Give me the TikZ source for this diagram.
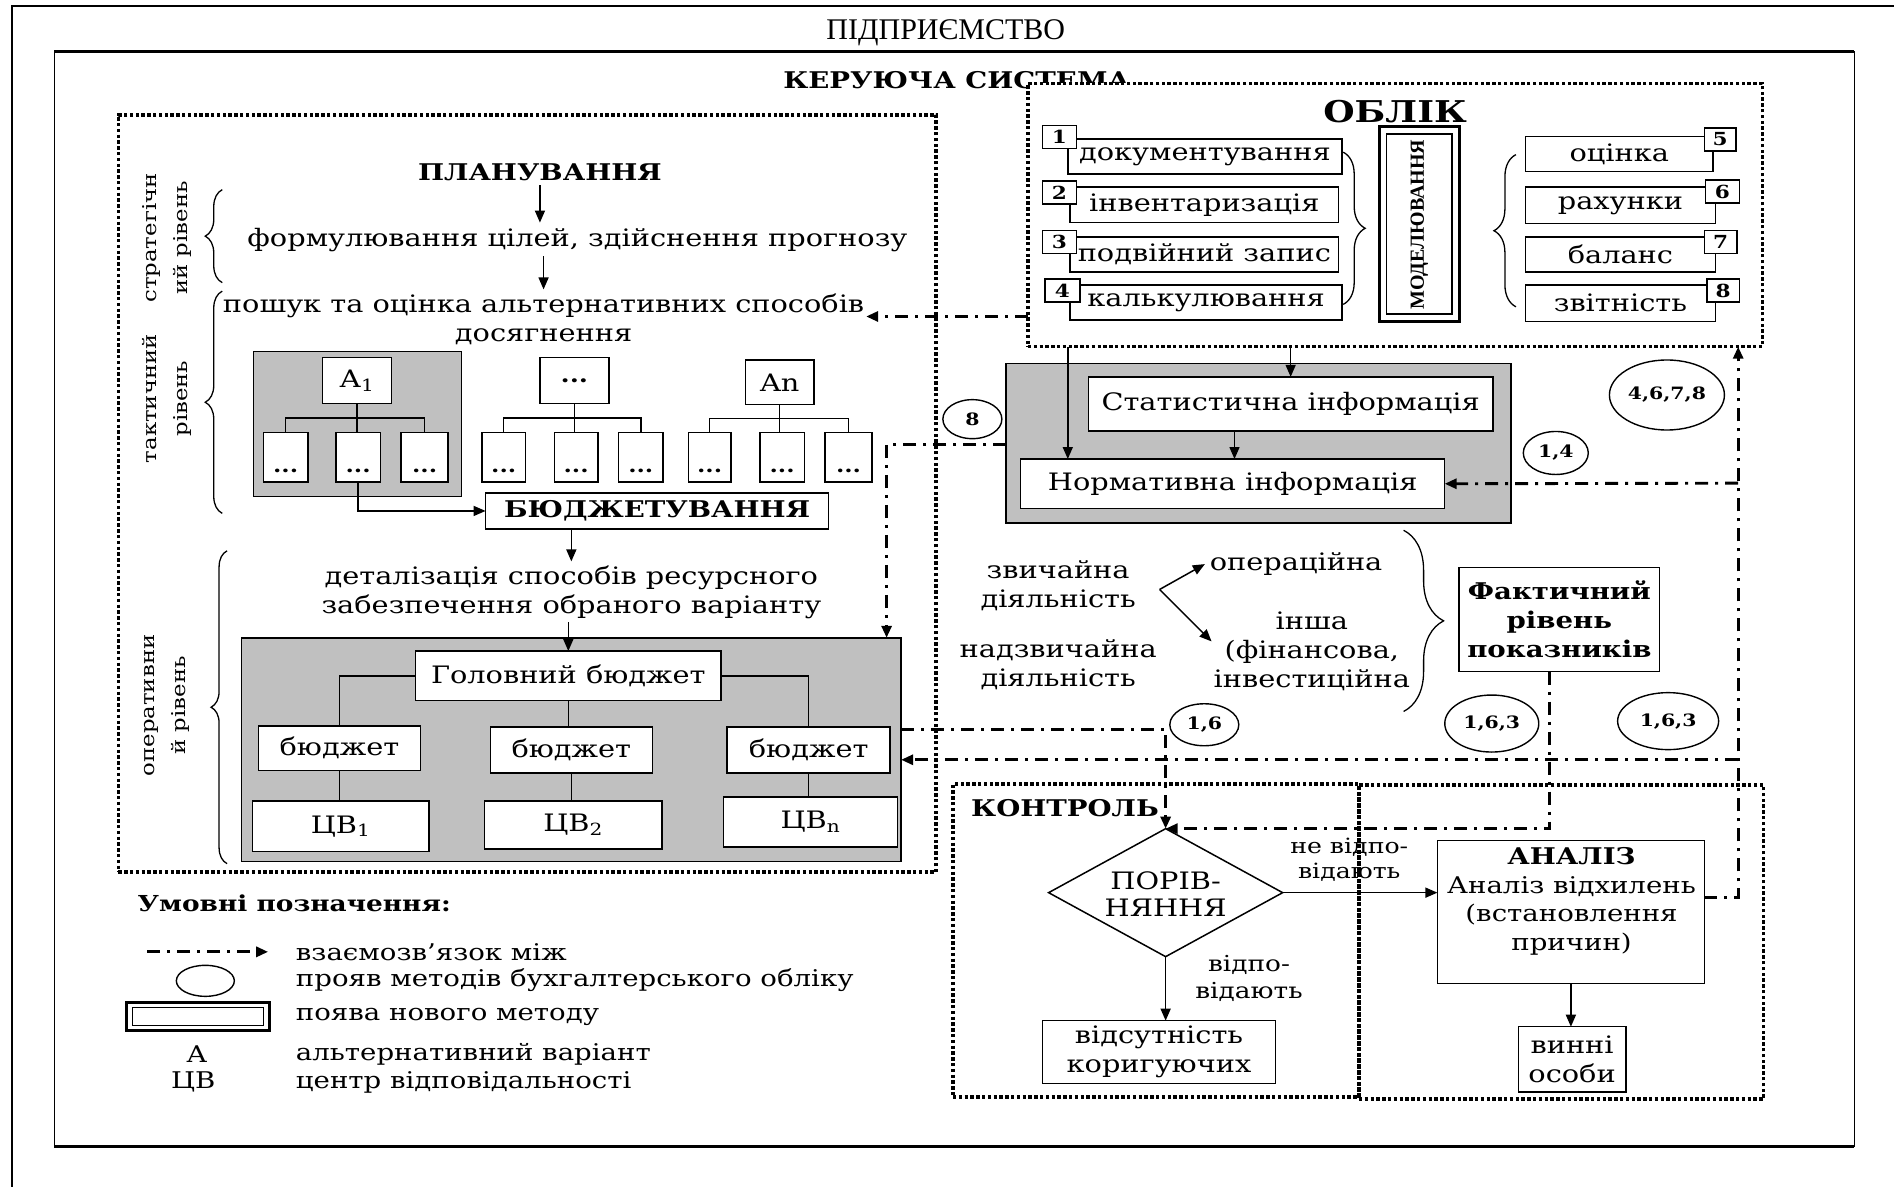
\documentclass[tikz,border=0pt]{standalone}
\usepackage{fontspec}
\setmainfont{DejaVu Serif}[FakeStretch=1.2]
\newfontfamily\narrowserif{Liberation Serif}
\usetikzlibrary{arrows.meta,shapes.geometric,fit,calc,decorations.pathreplacing}
\definecolor{panelgray}{HTML}{C0C0C0}
\newcommand\fsz[2]{\fontsize{#1}{#2}\selectfont}
% text box given by its corners: \tbox[options]{name}{x1}{y1}{x2}{y2}{text}
\newcommand\tbox[7][]{%
  \node[plainbox, minimum width={(#5-#3)*1.2079pt}, minimum height={(#6-#4)*1.2079pt}, #1]
    (#2) at ({(#3+#5)/2},{(#4+#6)/2}) {#7};}

\begin{document}
\begin{tikzpicture}[x=1.2079pt,y=-1.2079pt,
  every node/.style={inner sep=0pt, outer sep=0pt},
  txt/.style={align=center, font=\fsz{24}{29}},
  boldtxt/.style={align=center, font=\bfseries\fsz{23}{29}},
  plainbox/.style={draw, line width=1.5pt, fill=white, align=center, font=\fsz{24}{29}},
  panel/.style={draw, line width=1.5pt, fill=panelgray},
  dotframe/.style={draw, line width=3.6pt, dash pattern=on 3.4pt off 2.4pt},
  dashdot/.style={line width=2.9pt, dash pattern=on 13pt off 7pt on 3pt off 7pt},
  arrowed/.style={-{Triangle[length=12pt,width=10pt]}},
  conn/.style={line width=1.5pt},
  methodoval/.style={ellipse, draw, line width=1.4pt, fill=white, font=\bfseries\fsz{17}{17}},
  numtag/.style={font=\bfseries\fsz{18}{18}},
  curly/.style={decorate, decoration={brace, amplitude=#1}, line width=1.3pt},
  curly/.default=16pt,
  legtxt/.style={anchor=west, font=\fsz{23}{23}},
  leveltxt/.style={rotate=90, align=center, font=\fsz{19}{31}},
]
\useasboundingbox (0,0) rectangle (1568,982);

% outer and inner frames
\draw[line width=2pt] (10,990) -- (10,5) -- (1568,5);
\node[fit={(45,43) (1535,949)}, draw, line width=1.3pt] (firm) {};
\draw[line width=3pt] (firm.north west) -- (firm.north east);
\draw[line width=3pt] (firm.south west) -- (firm.south east);
\node[font=\narrowserif\fsz{30}{30}] (firmtitle) at (783,27) {ПІДПРИЄМСТВО};
\node[font=\bfseries\fsz{23}{23}] (mgmt) at (792,66) {КЕРУЮЧА СИСТЕМА};

% grey panels
\node[panel, fit={(210,291) (382,411)}] (altpanel) {};
\node[panel, fit={(200,528) (746,713)}] (budpanel) {};
\node[panel, fit={(833,301) (1251,433)}] (infopanel) {};

% dotted frames
\node[dotframe, fill=white, fit={(851,69) (1459,287)}] (oblik) {};
\node[dotframe, fit={(98,95) (775,722)}] (planbox) {};
\node[dotframe, fit={(789,649) (1125,908)}] (ctrlbox) {};
\node[dotframe, fit={(1125,650) (1460,910)}] (anlzbox) {};

% planning levels
\node[leveltxt] (lvlS) at (138,197) {стратегічн\\ий рівень};
\node[leveltxt] (lvlT) at (138,330) {тактичний\\рівень};
\node[leveltxt] (lvlO) at (138,584) {оперативни\\й рівень};
\draw[curly=17pt] (184,234) -- (184,157);
\draw[curly=17pt] (184,425) -- (184,241);
\draw[curly=16pt] (188,715) -- (188,456);

% planning flow
\node[boldtxt] (plan) at (447,143) {ПЛАНУВАННЯ};
\node[txt] (form) at (478,199) {формулювання цілей, здійснення прогнозу};
\node[txt] (poshuk) at (450,264) {пошук та оцінка альтернативних способів\\досягнення};
\draw[conn, arrowed, shorten <=4pt, shorten >=6pt] (plan.south) -- (plan.south |- form.north);
\draw[conn, arrowed, shorten <=4pt, shorten >=4pt] (form.south -| poshuk.north) -- (poshuk.north);

% alternatives
\tbox{alt1}{267}{296}{324}{334}{А\textsubscript{1}}
\tbox[font=\bfseries\fsz{22}{22}]{altm}{447}{296}{504}{334}{...}
\tbox{altn}{617}{298}{674}{335}{An}
\foreach \n/\a/\b in {s11/218/255, s12/278/315, s13/332/371,
                      s21/399/435, s22/459/495, s23/512/549,
                      s31/570/605, s32/629/666, s33/683/722} {
  \tbox{\n}{\a}{358}{\b}{399}{}
  \node[font=\bfseries\fsz{20}{20}] (\n-dots) at ([yshift=11pt]\n.south) {...};
}
\draw[conn] (alt1.south) -- (alt1.south |- s12.north);
\draw[conn] (s11.north) |- ($(alt1.south)!.5!(alt1.south |- s12.north)$) -| (s13.north);
\draw[conn] (altm.south) -- (altm.south |- s22.north);
\draw[conn] (s21.north) |- ($(altm.south)!.5!(altm.south |- s22.north)$) -| (s23.north);
\draw[conn] (altn.south) -- (altn.south |- s32.north);
\draw[conn] (s31.north) |- ($(altn.south)!.5!(altn.south |- s32.north)$) -| (s33.north);

\tbox[font=\bfseries\fsz{23}{23}]{budg}{402}{408}{686}{438}{БЮДЖЕТУВАННЯ}
\draw[conn, arrowed] (s12.south) |- (budg.west);

\node[txt] (det) at (473,490) {деталізація способів ресурсного\\забезпечення обраного варіанту};
\draw[conn, arrowed, shorten >=4pt] (det.north |- budg.south) -- (det.north);

% budgets
\tbox{head}{344}{539}{597}{580}{Головний бюджет}
\draw[conn, arrowed, shorten <=4pt] (det.south -| head.north) -- (head.north);
\tbox{bud1}{214}{601}{348}{638}{бюджет}
\tbox{bud2}{406}{602}{540}{640}{бюджет}
\tbox{bud3}{602}{602}{737}{640}{бюджет}
\tbox{cv1}{209}{663}{355}{705}{ЦВ\textsubscript{1}}
\tbox{cv2}{401}{663}{548}{703}{ЦВ\textsubscript{2}}
\tbox{cvn}{599}{660}{743}{701}{ЦВ\textsubscript{n}}
\draw[conn] (head.west) -| (bud1.north);
\draw[conn] (head.east) -| (bud3.north);
\draw[conn] (head.south) -- (head.south |- bud2.north);
\draw[conn] (bud1.south) -- (bud1.south |- cv1.north);
\draw[conn] (bud2.south) -- (bud2.south |- cv2.north);
\draw[conn] (bud3.south) -- (bud3.south |- cvn.north);

% accounting block
\node[font=\bfseries\fsz{30}{30}] (oblikttl) at (1155,92) {ОБЛІК};
\tbox{m1}{884}{115}{1111}{144}{документування}
\tbox{m2}{886}{155}{1108}{184}{інвентаризація}
\tbox{m3}{886}{196}{1108}{225}{подвійний запис}
\tbox{m4}{886}{236}{1111}{265}{калькулювання}
\tbox[numtag]{n1}{863}{104}{891}{123}{1}
\tbox[numtag]{n2}{863}{150}{891}{169}{2}
\tbox[numtag]{n3}{863}{191}{891}{210}{3}
\tbox[numtag]{n4}{865}{231}{894}{250}{4}
\tbox{m5}{1263}{113}{1418}{142}{оцінка}
\tbox{m6}{1263}{155}{1420}{185}{рахунки}
\tbox{m7}{1263}{196}{1420}{225}{баланс}
\tbox{m8}{1263}{236}{1420}{266}{звітність}
\tbox[numtag]{n5}{1411}{106}{1437}{125}{5}
\tbox[numtag]{n6}{1412}{149}{1440}{168}{6}
\tbox[numtag]{n7}{1411}{191}{1438}{210}{7}
\tbox[numtag]{n8}{1413}{231}{1440}{250}{8}
\draw[curly=22pt] (1112,126) -- (1112,252);
\draw[curly=22pt] (1255,254) -- (1255,128);
\node[draw, line width=3pt, fit={(1142,105) (1208,266)}] (modout) {};
\node[draw, line width=1.3pt, fit={(1148,111) (1202,260)}] (modin) {};
\node[rotate=90, font=\narrowserif\bfseries\fsz{20}{20}] (modtxt) at (1175,186) {МОДЕЛЮВАННЯ};

% information block
\tbox{stat}{901}{312}{1236}{357}{Статистична інформація}
\tbox{norm}{845}{380}{1196}{421}{Нормативна інформація}
\draw[conn, arrowed] (oblik.south -| 884,0) -- (norm.north -| 884,0);
\draw[conn, arrowed] (oblik.south -| stat.north) -- (stat.north);
\draw[conn, arrowed] (stat.south -| 1022,0) -- (norm.north -| 1022,0);

% activities and actual level
\node[txt] (usual) at (876,485) {звичайна\\діяльність};
\node[txt] (extra) at (876,550) {надзвичайна\\діяльність};
\node[txt] (oper) at (1073,467) {операційна};
\node[txt] (other) at (1086,539) {інша\\(фінансова,\\інвестиційна};
\coordinate (fork) at (960,488);
\coordinate (forkB) at (1003,531);
\draw[conn, arrowed] (fork) -- ([xshift=-5pt]oper.west);
\draw[conn, arrowed] (fork) -- (forkB);
\draw[curly=40pt] (1162,439) -- (1162,589);
\tbox[font=\bfseries\fsz{23}{29}]{fact}{1208}{470}{1374}{556}{Фактичний\\рівень\\показників}

% control and analysis
\node[font=\bfseries\fsz{23}{23}, anchor=west] (ctrlttl) at (804,669) {КОНТРОЛЬ};
\node[diamond, draw, line width=1.5pt, fill=white, minimum width=234pt, minimum height=128pt] (cmp) at (965,739) {};
\node[txt, font=\fsz{24}{27}] (cmptxt) at (965,740) {ПОРІВ-\\НЯННЯ};
\tbox{anlz}{1190}{696}{1411}{814}{}
\node[txt, font=\fsz{23}{28.5}] (anlztxt) at (1301,746) {{\bfseries АНАЛІЗ}\\Аналіз відхилень\\(встановлення\\причин)};
\tbox{nocorr}{863}{845}{1056}{897}{відсутність\\коригуючих}
\tbox{guilty}{1257}{850}{1346}{904}{винні\\особи}
\draw[conn, arrowed] (cmp.east) -- (cmp.east -| anlz.west);
\node[txt, font=\fsz{21}{25}] (nomatch) at (1117,712) {не відпо-\\відають};
\draw[conn, arrowed] (cmp.south) -- (cmp.south |- nocorr.north);
\node[txt, font=\fsz{22}{27}] (match) at (1034,810) {відпо-\\відають};
\draw[conn, arrowed] (anlz.south) -- (anlz.south |- guilty.north);

% relations between blocks
\draw[dashdot, arrowed] (oblik.west |- 0,262) -- ([xshift=2pt]poshuk.east |- 0,262);
\draw[dashdot, arrowed] (infopanel.west |- 0,368) -| (budpanel.north -| 734,0);
\coordinate (railA) at (1439,400);
\coordinate (railB) at (1439,629);
\draw[dashdot, arrowed] (anlz.east |- 0,743) -| (oblik.south -| 1439,0);
\draw[dashdot, arrowed] (railA) -- (norm.east);
\draw[dashdot, arrowed] (railB) -- (budpanel.east |- railB);
\draw[dashdot, arrowed] (budpanel.east |- 0,604) -| (cmp.north);
\draw[dashdot, arrowed] (fact.south -| 1283,0) |- (cmp.north);

% method ovals
\node[methodoval, minimum width=59pt, minimum height=39pt] (o8) at (805,347) {8};
\node[methodoval, minimum width=65pt, minimum height=43pt] (o14) at (1288,375) {1,4};
\node[methodoval, minimum width=115pt, minimum height=70pt] (o4678) at (1380,327) {4,6,7,8};
\node[methodoval, minimum width=69pt, minimum height=42pt] (o16) at (997,600) {1,6};
\node[methodoval, minimum width=94pt, minimum height=57pt] (o163a) at (1235,599) {1,6,3};
\node[methodoval, minimum width=101pt, minimum height=57pt] (o163b) at (1381,597) {1,6,3};

% legend
\node[font=\bfseries\fsz{22}{22}, anchor=west] (legttl) at (114,748) {Умовні позначення:};
\coordinate (legA) at (122,788);
\coordinate (legB) at (222,788);
\draw[dashdot, line width=3.2pt, arrowed] (legA) -- (legB);
\node[legtxt] (leg1) at (245,788) {взаємозв’язок між};
\node[ellipse, draw, line width=1.4pt, minimum width=58pt, minimum height=31pt] (legoval) at (170,812) {};
\node[legtxt] (leg2) at (245,811) {прояв методів бухгалтерського обліку};
\node[draw, line width=3pt, fit={(105,830) (223,853)}] (legnewout) {};
\node[draw, line width=1.2pt, fit={(110,834) (218,849)}] (legnewin) {};
\node[legtxt] (leg3) at (245,842) {поява нового методу};
\node[font=\fsz{23}{23}] (legA1) at (163,873) {А};
\node[legtxt] (leg4) at (245,873) {альтернативний варіант};
\node[font=\fsz{23}{23}] (legCV) at (160,896) {ЦВ};
\node[legtxt] (leg5) at (245,896) {центр відповідальності};
\end{tikzpicture}
\end{document}
